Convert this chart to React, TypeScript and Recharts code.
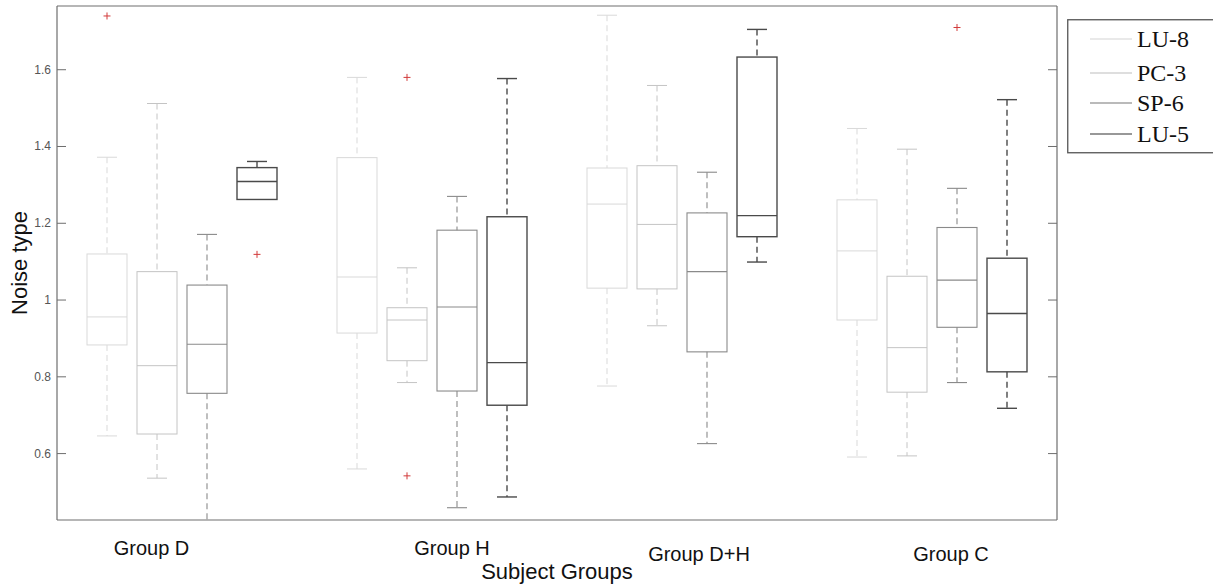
import React from 'react';
import { ComposedChart, Bar, XAxis, YAxis } from 'recharts';

// ---- data ----
const categories = ['Group D', 'Group H', 'Group D+H', 'Group C'];
const seriesNames = ['LU-8', 'PC-3', 'SP-6', 'LU-5'];

// each entry: [lowerWhisker, q1, median, q3, upperWhisker] per group (D, H, D+H, C)
const lu8Stats = [
  [0.646, 0.883, 0.956, 1.120, 1.372],
  [0.560, 0.914, 1.060, 1.371, 1.580],
  [0.776, 1.031, 1.250, 1.344, 1.742],
  [0.591, 0.948, 1.128, 1.261, 1.447],
];
const pc3Stats = [
  [0.536, 0.651, 0.829, 1.074, 1.512],
  [0.785, 0.842, 0.948, 0.980, 1.084],
  [0.933, 1.029, 1.197, 1.350, 1.559],
  [0.594, 0.760, 0.876, 1.062, 1.393],
];
const sp6Stats = [
  [0.400, 0.757, 0.885, 1.039, 1.171],
  [0.459, 0.763, 0.982, 1.182, 1.270],
  [0.626, 0.865, 1.074, 1.227, 1.333],
  [0.785, 0.929, 1.052, 1.189, 1.291],
];
const lu5Stats = [
  [1.262, 1.262, 1.309, 1.345, 1.361],
  [0.487, 0.726, 0.837, 1.217, 1.577],
  [1.099, 1.165, 1.220, 1.633, 1.705],
  [0.718, 0.813, 0.965, 1.109, 1.522],
];

const lu8Outliers = [[1.740], [], [], []];
const pc3Outliers = [[], [1.580, 0.542], [], []];
const sp6Outliers = [[], [], [], [1.710]];
const lu5Outliers = [[1.119], [], [], []];

const yTicks = [0.6, 0.8, 1, 1.2, 1.4, 1.6];
const yDomain = [0.427, 1.766];

// ---- layout / style ----
const seriesColors = ['#d9d9d9', '#c4c4c4', '#8a8a8a', '#4a4a4a'];
const legendColors = ['#d4d4d4', '#bdbdbd', '#777777', '#333333'];
const seriesWidths = [1, 1, 1.1, 1.4];
const labelPositions = [1.89, 7.9, 12.84, 17.88];
const labelBaselines = [555, 555, 561, 561];

const allStats = [lu8Stats, pc3Stats, sp6Stats, lu5Stats];
const allOutliers = [lu8Outliers, pc3Outliers, sp6Outliers, lu5Outliers];

const rows: any[] = [];
categories.forEach((_, g) => {
  seriesNames.forEach((name, s) => {
    const [lo, q1, med, q3, hi] = allStats[s][g];
    rows.push({
      x: g * 5 + s + 1,
      name,
      s,
      lo, q1, med, q3, hi,
      range: [q1, q3],
      outliers: allOutliers[s][g],
    });
  });
});

const BoxShape = (props: any) => {
  const { x, y, width, height, payload } = props;
  const { lo, q1, med, q3, hi, outliers, s } = payload;
  const top = Math.min(y, y + height);
  const h = Math.abs(height);
  const k = h / (q3 - q1);
  const py = (v: number) => top + (q3 - v) * k;
  const cx = x + width / 2;
  const cap = width / 4;
  const color = seriesColors[s];
  const sw = seriesWidths[s];
  return (
    <g>
      {hi > q3 && (
        <line x1={cx} x2={cx} y1={py(hi)} y2={py(q3)} stroke={color} strokeWidth={sw} strokeDasharray="6 4" />
      )}
      {lo < q1 && (
        <line x1={cx} x2={cx} y1={py(q1)} y2={py(lo)} stroke={color} strokeWidth={sw} strokeDasharray="6 4" />
      )}
      <line x1={cx - cap} x2={cx + cap} y1={py(hi)} y2={py(hi)} stroke={color} strokeWidth={sw} />
      {lo < q1 && (
        <line x1={cx - cap} x2={cx + cap} y1={py(lo)} y2={py(lo)} stroke={color} strokeWidth={sw} />
      )}
      <rect x={x} y={top} width={width} height={h} fill="none" stroke={color} strokeWidth={sw} />
      <line x1={x} x2={x + width} y1={py(med)} y2={py(med)} stroke={color} strokeWidth={sw} />
      {outliers.map((o: number, i: number) => (
        <g key={i} stroke="#d23a3a" strokeWidth={1}>
          <line x1={cx - 3.5} x2={cx + 3.5} y1={py(o)} y2={py(o)} />
          <line x1={cx} x2={cx} y1={py(o) - 3.5} y2={py(o) + 3.5} />
        </g>
      ))}
    </g>
  );
};

const GroupTick = (props: any) => {
  const { x, index } = props;
  return (
    <text
      x={x}
      y={labelBaselines[index] ?? 555}
      textAnchor="middle"
      fontFamily="'Liberation Sans', Arial, sans-serif"
      fontSize={20}
      fill="#111"
    >
      {categories[index]}
    </text>
  );
};

const LeftTick = (props: any) => {
  const { x, y, payload } = props;
  return (
    <text
      x={x}
      y={y}
      dy={4}
      textAnchor="end"
      fontFamily="'Liberation Sans', Arial, sans-serif"
      fontSize={12}
      fill="#555"
    >
      {String(payload.value)}
    </text>
  );
};

const EmptyTick = () => <g />;

const Legend = () => {
  const ys = [20, 54, 84, 115];
  return (
    <svg
      width={170}
      height={136}
      style={{ position: 'absolute', left: 1067, top: 19 }}
    >
      <rect x={0.75} y={0.75} width={200} height={133} fill="#fff" stroke="#555" strokeWidth={1.3} />
      {seriesNames.map((n, i) => (
        <g key={n}>
          <line x1={23} x2={65} y1={ys[i]} y2={ys[i]} stroke={legendColors[i]} strokeWidth={1.2} />
          <text
            x={70}
            y={ys[i] + 8}
            fontFamily="'Liberation Serif', 'Times New Roman', serif"
            fontSize={24}
            fill="#111"
          >
            {n}
          </text>
        </g>
      ))}
    </svg>
  );
};

export default function App() {
  return (
    <div
      style={{
        position: 'fixed',
        left: 0,
        top: 0,
        width: 1213,
        height: 585,
        overflow: 'hidden',
        background: '#fff',
      }}
    >
      <ComposedChart
        width={1213}
        height={585}
        data={rows}
        margin={{ top: 0, right: 0, bottom: 0, left: 0 }}
      >
        <XAxis
          xAxisId="b"
          type="number"
          dataKey="x"
          domain={[0, 20]}
          allowDataOverflow
          height={65}
          ticks={labelPositions}
          tick={<GroupTick />}
          tickLine={false}
          axisLine={{ stroke: '#6e6e6e', strokeWidth: 1.2 }}
          label={(p: any) => {
            const vb = p.viewBox || {};
            return (
              <text
                x={(vb.x ?? 57) + (vb.width ?? 1000) / 2}
                y={579}
                textAnchor="middle"
                fontFamily="'Liberation Sans', Arial, sans-serif"
                fontSize={22}
                fill="#111"
              >
                Subject Groups
              </text>
            );
          }}
        />
        <XAxis
          xAxisId="t"
          orientation="top"
          type="number"
          domain={[0, 20]}
          allowDataOverflow
          height={6}
          tick={false}
          tickLine={false}
          axisLine={{ stroke: '#6e6e6e', strokeWidth: 1.2 }}
        />
        <YAxis
          yAxisId="l"
          type="number"
          domain={yDomain}
          allowDataOverflow
          ticks={yTicks}
          width={57}
          tickSize={-9}
          tickMargin={15}
          tick={<LeftTick />}
          tickLine={{ stroke: '#6e6e6e' }}
          axisLine={{ stroke: '#6e6e6e', strokeWidth: 1.2 }}
          label={() => (
            <text
              x={27}
              y={263}
              transform="rotate(-90, 27, 263)"
              textAnchor="middle"
              fontFamily="'Liberation Sans', Arial, sans-serif"
              fontSize={22}
              fill="#111"
            >
              Noise type
            </text>
          )}
        />
        <YAxis
          yAxisId="r"
          orientation="right"
          type="number"
          domain={yDomain}
          allowDataOverflow
          ticks={yTicks}
          width={156}
          tickSize={-9}
          tick={<EmptyTick />}
          tickLine={{ stroke: '#6e6e6e' }}
          axisLine={{ stroke: '#6e6e6e', strokeWidth: 1.2 }}
        />
        <Bar
          xAxisId="b"
          yAxisId="l"
          dataKey="range"
          barSize={40}
          isAnimationActive={false}
          shape={<BoxShape />}
        />
      </ComposedChart>
      <Legend />
    </div>
  );
}
